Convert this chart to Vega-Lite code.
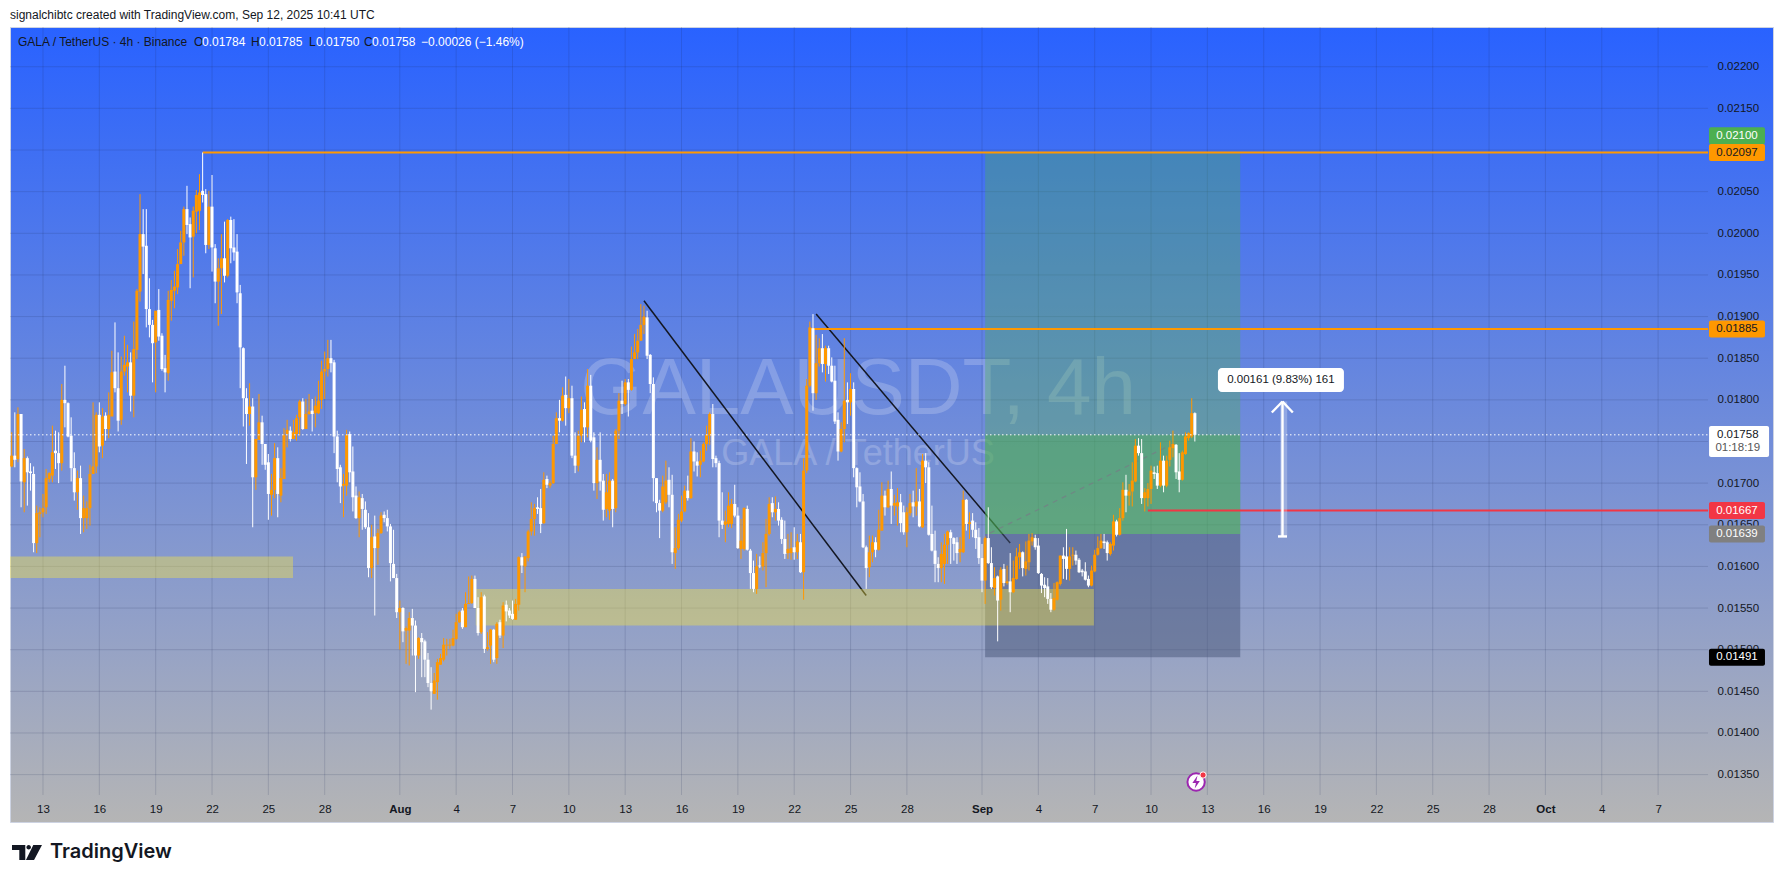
{"$schema":"https://vega.github.io/schema/vega-lite/v6.json","width":1763,"height":795,"autosize":"none","padding":{"left":10,"top":27,"right":11,"bottom":61},"background":"#ffffff","view":{"stroke":"#cdd3e2","fill":{"x1":0,"y1":0,"x2":0,"y2":1,"gradient":"linear","stops":[{"offset":0,"color":"#2962ff"},{"offset":1,"color":"#b5b5b5"}]}},"config":{"font":"Liberation Sans","axis":{"title":null}},"resolve":{"scale":{"color":"independent"}},
"datasets":{
"dates":[{"t":"2025-07-13T00:00"},{"t":"2025-07-16T00:00"},{"t":"2025-07-19T00:00"},{"t":"2025-07-22T00:00"},{"t":"2025-07-25T00:00"},{"t":"2025-07-28T00:00"},{"t":"2025-08-01T00:00"},{"t":"2025-08-04T00:00"},{"t":"2025-08-07T00:00"},{"t":"2025-08-10T00:00"},{"t":"2025-08-13T00:00"},{"t":"2025-08-16T00:00"},{"t":"2025-08-19T00:00"},{"t":"2025-08-22T00:00"},{"t":"2025-08-25T00:00"},{"t":"2025-08-28T00:00"},{"t":"2025-09-01T00:00"},{"t":"2025-09-04T00:00"},{"t":"2025-09-07T00:00"},{"t":"2025-09-10T00:00"},{"t":"2025-09-13T00:00"},{"t":"2025-09-16T00:00"},{"t":"2025-09-19T00:00"},{"t":"2025-09-22T00:00"},{"t":"2025-09-25T00:00"},{"t":"2025-09-28T00:00"},{"t":"2025-10-01T00:00"},{"t":"2025-10-04T00:00"},{"t":"2025-10-07T00:00"}],
"prices":[{"p":0.0135},{"p":0.014},{"p":0.0145},{"p":0.015},{"p":0.0155},{"p":0.016},{"p":0.0165},{"p":0.017},{"p":0.0175},{"p":0.018},{"p":0.0185},{"p":0.019},{"p":0.0195},{"p":0.02},{"p":0.0205},{"p":0.021},{"p":0.0215},{"p":0.022}],
"zones":[{"kind":"target","t1":"2025-09-01T04:00","t2":"2025-09-14T18:00","p1":0.02097,"p2":0.01639},{"kind":"open","t1":"2025-09-01T04:00","t2":"2025-09-14T18:00","p1":0.01758,"p2":0.01639},{"kind":"stop","t1":"2025-09-01T04:00","t2":"2025-09-14T18:00","p1":0.01639,"p2":0.01491},{"kind":"demand","t1":"2025-07-11T05:50","t2":"2025-07-26T07:30","p1":0.01612,"p2":0.01586},{"kind":"demand","t1":"2025-08-05T01:00","t2":"2025-09-06T23:00","p1":0.01573,"p2":0.01529}],
"trend":[{"t1":"2025-08-14T00:00","t2":"2025-08-25T20:00","p1":0.01919,"p2":0.01565},{"t1":"2025-08-23T04:00","t2":"2025-09-02T12:00","p1":0.01903,"p2":0.01628}],
"levels":[{"t":"2025-07-21T12:00","p":0.02097,"kind":"resistance"},{"t":"2025-08-22T20:00","p":0.01885,"kind":"resistance"},{"t":"2025-09-09T20:00","p":0.01667,"kind":"stop"}],
"badges":[{"at":0.02117,"kind":"target","label":"0.02100"},{"at":0.02097,"kind":"level","label":"0.02097"},{"at":0.01885,"kind":"level","label":"0.01885"},{"at":0.01667,"kind":"red","label":"0.01667"},{"at":0.01639,"kind":"gray","label":"0.01639"},{"at":0.01491,"kind":"black","label":"0.01491"}],
"arrow":[{"t1":"2025-09-17T00:00","t2":"2025-09-17T00:00","p1":0.01636,"p2":0.01798},{"t1":"2025-09-17T00:00","t2":"2025-09-16T10:20","p1":0.01798,"p2":0.017848},{"t1":"2025-09-17T00:00","t2":"2025-09-17T13:12","p1":0.01798,"p2":0.017848},{"t1":"2025-09-16T18:14","t2":"2025-09-17T05:46","p1":0.01636,"p2":0.01636}],
"legend":[{"t":"2025-07-11T16:03","label":"GALA / TetherUS · 4h · Binance","kind":"name"},{"t":"2025-07-21T01:00","label":"O","kind":"name"},{"t":"2025-07-21T11:12","label":"0.01784","kind":"value"},{"t":"2025-07-24T01:49","label":"H","kind":"name"},{"t":"2025-07-24T12:00","label":"0.01785","kind":"value"},{"t":"2025-07-27T03:56","label":"L","kind":"name"},{"t":"2025-07-27T12:53","label":"0.01750","kind":"value"},{"t":"2025-07-30T02:10","label":"C","kind":"name"},{"t":"2025-07-30T12:29","label":"0.01758","kind":"value"},{"t":"2025-08-02T03:07","label":"−0.00026 (−1.46%)","kind":"value"}],
"candles":[
{"t":"2025-07-11T08:00","o":0.0172,"h":0.01761,"l":0.01719,"c":0.01733},{"t":"2025-07-11T12:00","o":0.01733,"h":0.01785,"l":0.01719,"c":0.01728},{"t":"2025-07-11T16:00","o":0.01729,"h":0.01791,"l":0.01725,"c":0.01783},{"t":"2025-07-11T20:00","o":0.01783,"h":0.01783,"l":0.01671,"c":0.01702},
{"t":"2025-07-12T00:00","o":0.01701,"h":0.01741,"l":0.01665,"c":0.0173},{"t":"2025-07-12T04:00","o":0.0173,"h":0.01732,"l":0.01673,"c":0.01713},{"t":"2025-07-12T08:00","o":0.01714,"h":0.01724,"l":0.01691,"c":0.01712},{"t":"2025-07-12T12:00","o":0.01711,"h":0.0172,"l":0.01617,"c":0.01628},{"t":"2025-07-12T16:00","o":0.01628,"h":0.01673,"l":0.01616,"c":0.01664},{"t":"2025-07-12T20:00","o":0.01663,"h":0.01671,"l":0.01635,"c":0.01665},
{"t":"2025-07-13T00:00","o":0.01665,"h":0.01687,"l":0.01659,"c":0.0167},{"t":"2025-07-13T04:00","o":0.01671,"h":0.01717,"l":0.01663,"c":0.01706},{"t":"2025-07-13T08:00","o":0.01705,"h":0.01713,"l":0.01701,"c":0.01712},{"t":"2025-07-13T12:00","o":0.01709,"h":0.01769,"l":0.01701,"c":0.01737},{"t":"2025-07-13T16:00","o":0.01739,"h":0.01763,"l":0.01717,"c":0.01736},{"t":"2025-07-13T20:00","o":0.01736,"h":0.01761,"l":0.017,"c":0.01724},
{"t":"2025-07-14T00:00","o":0.01724,"h":0.01819,"l":0.01715,"c":0.018},{"t":"2025-07-14T04:00","o":0.018,"h":0.01841,"l":0.01767,"c":0.01796},{"t":"2025-07-14T08:00","o":0.01796,"h":0.01797,"l":0.01755,"c":0.01756},{"t":"2025-07-14T12:00","o":0.01757,"h":0.01779,"l":0.01702,"c":0.01718},{"t":"2025-07-14T16:00","o":0.01718,"h":0.01737,"l":0.01679,"c":0.01689},{"t":"2025-07-14T20:00","o":0.01689,"h":0.01715,"l":0.01668,"c":0.01706},
{"t":"2025-07-15T00:00","o":0.01706,"h":0.01721,"l":0.01639,"c":0.01658},{"t":"2025-07-15T04:00","o":0.01658,"h":0.01685,"l":0.01641,"c":0.0167},{"t":"2025-07-15T08:00","o":0.01658,"h":0.01678,"l":0.01645,"c":0.0167},{"t":"2025-07-15T12:00","o":0.0167,"h":0.01722,"l":0.01649,"c":0.01711},{"t":"2025-07-15T16:00","o":0.01711,"h":0.01797,"l":0.01711,"c":0.0172},{"t":"2025-07-15T20:00","o":0.0172,"h":0.01785,"l":0.01712,"c":0.01782},
{"t":"2025-07-16T00:00","o":0.01782,"h":0.01797,"l":0.01737,"c":0.01744},{"t":"2025-07-16T04:00","o":0.01745,"h":0.0179,"l":0.0173,"c":0.0178},{"t":"2025-07-16T08:00","o":0.01781,"h":0.01785,"l":0.01751,"c":0.01765},{"t":"2025-07-16T12:00","o":0.01765,"h":0.01809,"l":0.01754,"c":0.01782},{"t":"2025-07-16T16:00","o":0.0178,"h":0.01859,"l":0.01781,"c":0.01833},{"t":"2025-07-16T20:00","o":0.01834,"h":0.01893,"l":0.01809,"c":0.01814},
{"t":"2025-07-17T00:00","o":0.01814,"h":0.01857,"l":0.01762,"c":0.01775},{"t":"2025-07-17T04:00","o":0.01776,"h":0.01852,"l":0.0177,"c":0.01834},{"t":"2025-07-17T08:00","o":0.01834,"h":0.01877,"l":0.01829,"c":0.01842},{"t":"2025-07-17T12:00","o":0.0184,"h":0.01866,"l":0.01809,"c":0.01845},{"t":"2025-07-17T16:00","o":0.01845,"h":0.01857,"l":0.01786,"c":0.01805},{"t":"2025-07-17T20:00","o":0.01805,"h":0.01894,"l":0.01779,"c":0.01861},
{"t":"2025-07-18T00:00","o":0.0186,"h":0.01933,"l":0.01849,"c":0.01931},{"t":"2025-07-18T04:00","o":0.0193,"h":0.02047,"l":0.01918,"c":0.01999},{"t":"2025-07-18T08:00","o":0.01999,"h":0.02029,"l":0.01951,"c":0.01984},{"t":"2025-07-18T12:00","o":0.01985,"h":0.02029,"l":0.01887,"c":0.01909},{"t":"2025-07-18T16:00","o":0.01909,"h":0.01946,"l":0.01875,"c":0.0189},{"t":"2025-07-18T20:00","o":0.0189,"h":0.01896,"l":0.01821,"c":0.01868},
{"t":"2025-07-19T00:00","o":0.01869,"h":0.01907,"l":0.01809,"c":0.01907},{"t":"2025-07-19T04:00","o":0.01908,"h":0.01933,"l":0.01871,"c":0.01876},{"t":"2025-07-19T08:00","o":0.01877,"h":0.0188,"l":0.01835,"c":0.01837},{"t":"2025-07-19T12:00","o":0.01838,"h":0.01854,"l":0.01809,"c":0.01833},{"t":"2025-07-19T16:00","o":0.01832,"h":0.01931,"l":0.01823,"c":0.0192},{"t":"2025-07-19T20:00","o":0.01919,"h":0.01944,"l":0.01895,"c":0.01932},
{"t":"2025-07-20T00:00","o":0.01931,"h":0.01955,"l":0.0191,"c":0.01936},{"t":"2025-07-20T04:00","o":0.01935,"h":0.01981,"l":0.01927,"c":0.01963},{"t":"2025-07-20T08:00","o":0.01963,"h":0.02003,"l":0.01963,"c":0.01989},{"t":"2025-07-20T12:00","o":0.01989,"h":0.02032,"l":0.01973,"c":0.02029},{"t":"2025-07-20T16:00","o":0.02029,"h":0.02057,"l":0.01999,"c":0.0201},{"t":"2025-07-20T20:00","o":0.02011,"h":0.02019,"l":0.01934,"c":0.01995},
{"t":"2025-07-21T00:00","o":0.01996,"h":0.02032,"l":0.01947,"c":0.02027},{"t":"2025-07-21T04:00","o":0.02026,"h":0.02052,"l":0.02,"c":0.02046},{"t":"2025-07-21T08:00","o":0.02027,"h":0.02071,"l":0.02004,"c":0.02049},{"t":"2025-07-21T12:00","o":0.02051,"h":0.02097,"l":0.02037,"c":0.02046},{"t":"2025-07-21T16:00","o":0.02047,"h":0.02053,"l":0.01976,"c":0.01986},{"t":"2025-07-21T20:00","o":0.01986,"h":0.02051,"l":0.01981,"c":0.02032},
{"t":"2025-07-22T00:00","o":0.02032,"h":0.0207,"l":0.01954,"c":0.01983},{"t":"2025-07-22T04:00","o":0.01982,"h":0.01987,"l":0.01916,"c":0.01942},{"t":"2025-07-22T08:00","o":0.01942,"h":0.0197,"l":0.01889,"c":0.01958},{"t":"2025-07-22T12:00","o":0.01958,"h":0.01999,"l":0.01903,"c":0.0197},{"t":"2025-07-22T16:00","o":0.0197,"h":0.02014,"l":0.01941,"c":0.01949},{"t":"2025-07-22T20:00","o":0.01949,"h":0.02017,"l":0.01947,"c":0.02016},
{"t":"2025-07-23T00:00","o":0.02016,"h":0.0202,"l":0.01964,"c":0.01982},{"t":"2025-07-23T04:00","o":0.01983,"h":0.02017,"l":0.01967,"c":0.01977},{"t":"2025-07-23T08:00","o":0.01978,"h":0.01999,"l":0.01916,"c":0.01929},{"t":"2025-07-23T12:00","o":0.01928,"h":0.01938,"l":0.01814,"c":0.01863},{"t":"2025-07-23T16:00","o":0.01862,"h":0.01863,"l":0.01768,"c":0.01802},{"t":"2025-07-23T20:00","o":0.01802,"h":0.01814,"l":0.01723,"c":0.01783},
{"t":"2025-07-24T00:00","o":0.01783,"h":0.0182,"l":0.01769,"c":0.01792},{"t":"2025-07-24T04:00","o":0.01792,"h":0.01802,"l":0.01647,"c":0.01707},{"t":"2025-07-24T08:00","o":0.01707,"h":0.01753,"l":0.01692,"c":0.01753},{"t":"2025-07-24T12:00","o":0.01752,"h":0.01807,"l":0.01752,"c":0.01773},{"t":"2025-07-24T16:00","o":0.01773,"h":0.01781,"l":0.01722,"c":0.01747},{"t":"2025-07-24T20:00","o":0.01747,"h":0.01747,"l":0.01716,"c":0.01722},
{"t":"2025-07-25T00:00","o":0.01725,"h":0.01735,"l":0.01656,"c":0.01687},{"t":"2025-07-25T04:00","o":0.01686,"h":0.01711,"l":0.01661,"c":0.01692},{"t":"2025-07-25T08:00","o":0.01692,"h":0.01748,"l":0.01682,"c":0.0173},{"t":"2025-07-25T12:00","o":0.0173,"h":0.01743,"l":0.01659,"c":0.01687},{"t":"2025-07-25T16:00","o":0.01685,"h":0.01718,"l":0.01677,"c":0.01706},{"t":"2025-07-25T20:00","o":0.01705,"h":0.01766,"l":0.01705,"c":0.01758},
{"t":"2025-07-26T00:00","o":0.01759,"h":0.01776,"l":0.01743,"c":0.01764},{"t":"2025-07-26T04:00","o":0.01763,"h":0.01768,"l":0.0175,"c":0.01753},{"t":"2025-07-26T08:00","o":0.01753,"h":0.01776,"l":0.01754,"c":0.01761},{"t":"2025-07-26T12:00","o":0.01759,"h":0.01782,"l":0.01751,"c":0.01778},{"t":"2025-07-26T16:00","o":0.01779,"h":0.018,"l":0.01757,"c":0.01798},{"t":"2025-07-26T20:00","o":0.01798,"h":0.01802,"l":0.01764,"c":0.01765},
{"t":"2025-07-27T00:00","o":0.01765,"h":0.01801,"l":0.01765,"c":0.01783},{"t":"2025-07-27T04:00","o":0.01783,"h":0.01807,"l":0.01782,"c":0.01786},{"t":"2025-07-27T08:00","o":0.01787,"h":0.01801,"l":0.01762,"c":0.01783},{"t":"2025-07-27T12:00","o":0.01784,"h":0.01804,"l":0.01767,"c":0.01793},{"t":"2025-07-27T16:00","o":0.01784,"h":0.01823,"l":0.01783,"c":0.01799},{"t":"2025-07-27T20:00","o":0.018,"h":0.01847,"l":0.01789,"c":0.01834},
{"t":"2025-07-28T00:00","o":0.01834,"h":0.01858,"l":0.01801,"c":0.01837},{"t":"2025-07-28T04:00","o":0.01837,"h":0.01872,"l":0.01828,"c":0.0185},{"t":"2025-07-28T08:00","o":0.0185,"h":0.01872,"l":0.01833,"c":0.01844},{"t":"2025-07-28T12:00","o":0.01845,"h":0.01848,"l":0.01736,"c":0.01756},{"t":"2025-07-28T16:00","o":0.01756,"h":0.01763,"l":0.01701,"c":0.01717},{"t":"2025-07-28T20:00","o":0.01719,"h":0.01722,"l":0.01676,"c":0.01696},
{"t":"2025-07-29T00:00","o":0.01697,"h":0.01711,"l":0.01659,"c":0.01699},{"t":"2025-07-29T04:00","o":0.01697,"h":0.01764,"l":0.01685,"c":0.01758},{"t":"2025-07-29T08:00","o":0.01759,"h":0.01762,"l":0.01701,"c":0.01713},{"t":"2025-07-29T12:00","o":0.01714,"h":0.01744,"l":0.01666,"c":0.01683},{"t":"2025-07-29T16:00","o":0.01685,"h":0.01696,"l":0.01657,"c":0.01658},{"t":"2025-07-29T20:00","o":0.01658,"h":0.0169,"l":0.01635,"c":0.01683},
{"t":"2025-07-30T00:00","o":0.01682,"h":0.01687,"l":0.01644,"c":0.01669},{"t":"2025-07-30T04:00","o":0.01668,"h":0.01678,"l":0.01645,"c":0.01647},{"t":"2025-07-30T08:00","o":0.01647,"h":0.01664,"l":0.01587,"c":0.01598},{"t":"2025-07-30T12:00","o":0.01598,"h":0.0165,"l":0.01586,"c":0.01635},{"t":"2025-07-30T16:00","o":0.01636,"h":0.01661,"l":0.01541,"c":0.01622},{"t":"2025-07-30T20:00","o":0.01622,"h":0.01645,"l":0.01602,"c":0.0164},
{"t":"2025-07-31T00:00","o":0.0164,"h":0.01665,"l":0.01639,"c":0.01661},{"t":"2025-07-31T04:00","o":0.01662,"h":0.01666,"l":0.01653,"c":0.01658},{"t":"2025-07-31T08:00","o":0.01658,"h":0.01668,"l":0.01642,"c":0.01648},{"t":"2025-07-31T12:00","o":0.01648,"h":0.01651,"l":0.01582,"c":0.01604},{"t":"2025-07-31T16:00","o":0.01603,"h":0.01644,"l":0.01586,"c":0.01586},{"t":"2025-07-31T20:00","o":0.01586,"h":0.01591,"l":0.01538,"c":0.01545},
{"t":"2025-08-01T00:00","o":0.01545,"h":0.01559,"l":0.015,"c":0.0155},{"t":"2025-08-01T04:00","o":0.0155,"h":0.01551,"l":0.01509,"c":0.01522},{"t":"2025-08-01T08:00","o":0.01523,"h":0.01528,"l":0.01483,"c":0.01526},{"t":"2025-08-01T12:00","o":0.01523,"h":0.01545,"l":0.01481,"c":0.01538},{"t":"2025-08-01T16:00","o":0.01538,"h":0.01549,"l":0.01493,"c":0.01529},{"t":"2025-08-01T20:00","o":0.01529,"h":0.01535,"l":0.01449,"c":0.01493},
{"t":"2025-08-02T00:00","o":0.01493,"h":0.01515,"l":0.01489,"c":0.01514},{"t":"2025-08-02T04:00","o":0.01514,"h":0.0152,"l":0.01467,"c":0.01509},{"t":"2025-08-02T08:00","o":0.0151,"h":0.01512,"l":0.01467,"c":0.01488},{"t":"2025-08-02T12:00","o":0.01488,"h":0.01496,"l":0.01455,"c":0.0146},{"t":"2025-08-02T16:00","o":0.0146,"h":0.01479,"l":0.01428,"c":0.0145},{"t":"2025-08-02T20:00","o":0.01447,"h":0.01472,"l":0.01447,"c":0.01463},
{"t":"2025-08-03T00:00","o":0.01461,"h":0.01489,"l":0.0144,"c":0.01485},{"t":"2025-08-03T04:00","o":0.01482,"h":0.01495,"l":0.01482,"c":0.0149},{"t":"2025-08-03T08:00","o":0.01488,"h":0.01514,"l":0.01486,"c":0.01506},{"t":"2025-08-03T12:00","o":0.01505,"h":0.01513,"l":0.01493,"c":0.01506},{"t":"2025-08-03T16:00","o":0.01505,"h":0.01513,"l":0.01501,"c":0.01506},{"t":"2025-08-03T20:00","o":0.01505,"h":0.01524,"l":0.01504,"c":0.01514},
{"t":"2025-08-04T00:00","o":0.01513,"h":0.01543,"l":0.01512,"c":0.01533},{"t":"2025-08-04T04:00","o":0.01533,"h":0.01547,"l":0.01532,"c":0.01545},{"t":"2025-08-04T08:00","o":0.01547,"h":0.0155,"l":0.01525,"c":0.01527},{"t":"2025-08-04T12:00","o":0.01527,"h":0.01569,"l":0.01527,"c":0.01555},{"t":"2025-08-04T16:00","o":0.01555,"h":0.01588,"l":0.01555,"c":0.01556},{"t":"2025-08-04T20:00","o":0.01556,"h":0.01589,"l":0.01555,"c":0.01585},
{"t":"2025-08-05T00:00","o":0.01585,"h":0.01589,"l":0.0155,"c":0.0155},{"t":"2025-08-05T04:00","o":0.0155,"h":0.01563,"l":0.01517,"c":0.0152},{"t":"2025-08-05T08:00","o":0.01521,"h":0.01569,"l":0.01519,"c":0.01563},{"t":"2025-08-05T12:00","o":0.01564,"h":0.01566,"l":0.01496,"c":0.01501},{"t":"2025-08-05T16:00","o":0.01501,"h":0.01521,"l":0.01499,"c":0.01503},{"t":"2025-08-05T20:00","o":0.01505,"h":0.01525,"l":0.01483,"c":0.01524},
{"t":"2025-08-06T00:00","o":0.01524,"h":0.01525,"l":0.01485,"c":0.01488},{"t":"2025-08-06T04:00","o":0.0149,"h":0.01533,"l":0.01483,"c":0.01531},{"t":"2025-08-06T08:00","o":0.01533,"h":0.01536,"l":0.01514,"c":0.01517},{"t":"2025-08-06T12:00","o":0.01517,"h":0.01557,"l":0.01502,"c":0.01553},{"t":"2025-08-06T16:00","o":0.01554,"h":0.01559,"l":0.01534,"c":0.01546},{"t":"2025-08-06T20:00","o":0.01547,"h":0.0155,"l":0.01538,"c":0.01541},
{"t":"2025-08-07T00:00","o":0.01543,"h":0.01559,"l":0.01536,"c":0.01537},{"t":"2025-08-07T04:00","o":0.01536,"h":0.01561,"l":0.01536,"c":0.01555},{"t":"2025-08-07T08:00","o":0.01554,"h":0.01612,"l":0.01547,"c":0.01611},{"t":"2025-08-07T12:00","o":0.01611,"h":0.01616,"l":0.01592,"c":0.01601},{"t":"2025-08-07T16:00","o":0.016,"h":0.01612,"l":0.01569,"c":0.01612},{"t":"2025-08-07T20:00","o":0.0161,"h":0.01644,"l":0.01606,"c":0.01642},
{"t":"2025-08-08T00:00","o":0.01642,"h":0.01677,"l":0.01637,"c":0.01657},{"t":"2025-08-08T04:00","o":0.01657,"h":0.01675,"l":0.01637,"c":0.0167},{"t":"2025-08-08T08:00","o":0.01671,"h":0.01683,"l":0.01663,"c":0.01669},{"t":"2025-08-08T12:00","o":0.0167,"h":0.01693,"l":0.0164,"c":0.01651},{"t":"2025-08-08T16:00","o":0.01652,"h":0.01713,"l":0.01651,"c":0.01704},{"t":"2025-08-08T20:00","o":0.01705,"h":0.01709,"l":0.01694,"c":0.01698},
{"t":"2025-08-09T00:00","o":0.01697,"h":0.01703,"l":0.01694,"c":0.017},{"t":"2025-08-09T04:00","o":0.017,"h":0.01757,"l":0.01699,"c":0.01747},{"t":"2025-08-09T08:00","o":0.01747,"h":0.01785,"l":0.01747,"c":0.01778},{"t":"2025-08-09T12:00","o":0.01778,"h":0.018,"l":0.01761,"c":0.01775},{"t":"2025-08-09T16:00","o":0.01775,"h":0.01815,"l":0.01774,"c":0.01805},{"t":"2025-08-09T20:00","o":0.01806,"h":0.01828,"l":0.01769,"c":0.0179},
{"t":"2025-08-10T00:00","o":0.0179,"h":0.01825,"l":0.01784,"c":0.01802},{"t":"2025-08-10T04:00","o":0.01802,"h":0.01817,"l":0.0173,"c":0.01733},{"t":"2025-08-10T08:00","o":0.01733,"h":0.01761,"l":0.01712,"c":0.01721},{"t":"2025-08-10T12:00","o":0.01721,"h":0.01763,"l":0.01714,"c":0.01757},{"t":"2025-08-10T16:00","o":0.01757,"h":0.01804,"l":0.01749,"c":0.01788},{"t":"2025-08-10T20:00","o":0.01789,"h":0.01797,"l":0.01749,"c":0.01767},
{"t":"2025-08-11T00:00","o":0.01767,"h":0.01837,"l":0.01755,"c":0.01817},{"t":"2025-08-11T04:00","o":0.01817,"h":0.0183,"l":0.01749,"c":0.01751},{"t":"2025-08-11T08:00","o":0.01755,"h":0.01761,"l":0.01691,"c":0.017},{"t":"2025-08-11T12:00","o":0.017,"h":0.01743,"l":0.01681,"c":0.01728},{"t":"2025-08-11T16:00","o":0.01728,"h":0.01761,"l":0.01691,"c":0.01702},{"t":"2025-08-11T20:00","o":0.01703,"h":0.01711,"l":0.01655,"c":0.01668},
{"t":"2025-08-12T00:00","o":0.01669,"h":0.01711,"l":0.01659,"c":0.01689},{"t":"2025-08-12T04:00","o":0.01667,"h":0.01713,"l":0.01656,"c":0.01703},{"t":"2025-08-12T08:00","o":0.01703,"h":0.01705,"l":0.01647,"c":0.01669},{"t":"2025-08-12T12:00","o":0.0167,"h":0.01765,"l":0.01665,"c":0.01763},{"t":"2025-08-12T16:00","o":0.01763,"h":0.01808,"l":0.01753,"c":0.01799},{"t":"2025-08-12T20:00","o":0.01799,"h":0.01823,"l":0.01783,"c":0.01795},
{"t":"2025-08-13T00:00","o":0.01795,"h":0.01825,"l":0.01793,"c":0.01821},{"t":"2025-08-13T04:00","o":0.01821,"h":0.01825,"l":0.0178,"c":0.01812},{"t":"2025-08-13T08:00","o":0.01812,"h":0.01864,"l":0.01811,"c":0.01849},{"t":"2025-08-13T12:00","o":0.01849,"h":0.01879,"l":0.01849,"c":0.01857},{"t":"2025-08-13T16:00","o":0.01857,"h":0.01885,"l":0.01849,"c":0.01871},{"t":"2025-08-13T20:00","o":0.01871,"h":0.01915,"l":0.01871,"c":0.0189},
{"t":"2025-08-14T00:00","o":0.0189,"h":0.01913,"l":0.01879,"c":0.019},{"t":"2025-08-14T04:00","o":0.01899,"h":0.01907,"l":0.01849,"c":0.01853},{"t":"2025-08-14T08:00","o":0.01854,"h":0.01855,"l":0.01808,"c":0.01819},{"t":"2025-08-14T12:00","o":0.01819,"h":0.01827,"l":0.01678,"c":0.01706},{"t":"2025-08-14T16:00","o":0.01706,"h":0.01706,"l":0.01665,"c":0.01676},{"t":"2025-08-14T20:00","o":0.01676,"h":0.0168,"l":0.01634,"c":0.01667},
{"t":"2025-08-15T00:00","o":0.01667,"h":0.01709,"l":0.01665,"c":0.01696},{"t":"2025-08-15T04:00","o":0.01677,"h":0.01727,"l":0.01675,"c":0.01703},{"t":"2025-08-15T08:00","o":0.01704,"h":0.01719,"l":0.01671,"c":0.01686},{"t":"2025-08-15T12:00","o":0.01686,"h":0.0171,"l":0.01603,"c":0.01617},{"t":"2025-08-15T16:00","o":0.01616,"h":0.01647,"l":0.01597,"c":0.01622},{"t":"2025-08-15T20:00","o":0.01622,"h":0.01663,"l":0.0162,"c":0.01656},
{"t":"2025-08-16T00:00","o":0.01655,"h":0.01685,"l":0.01653,"c":0.01666},{"t":"2025-08-16T04:00","o":0.01666,"h":0.01697,"l":0.01665,"c":0.01691},{"t":"2025-08-16T08:00","o":0.01691,"h":0.01709,"l":0.01679,"c":0.01682},{"t":"2025-08-16T12:00","o":0.01682,"h":0.01754,"l":0.01681,"c":0.01738},{"t":"2025-08-16T16:00","o":0.01738,"h":0.0175,"l":0.01714,"c":0.01726},{"t":"2025-08-16T20:00","o":0.01726,"h":0.01737,"l":0.01708,"c":0.01721},
{"t":"2025-08-17T00:00","o":0.01722,"h":0.01739,"l":0.01707,"c":0.01727},{"t":"2025-08-17T04:00","o":0.01726,"h":0.01749,"l":0.01725,"c":0.01747},{"t":"2025-08-17T08:00","o":0.01747,"h":0.01769,"l":0.01739,"c":0.01758},{"t":"2025-08-17T12:00","o":0.01757,"h":0.01785,"l":0.01746,"c":0.01783},{"t":"2025-08-17T16:00","o":0.01783,"h":0.01795,"l":0.01719,"c":0.01729},{"t":"2025-08-17T20:00","o":0.0173,"h":0.01733,"l":0.01719,"c":0.01724},
{"t":"2025-08-18T00:00","o":0.01724,"h":0.01727,"l":0.01635,"c":0.01655},{"t":"2025-08-18T04:00","o":0.01655,"h":0.01689,"l":0.01645,"c":0.0165},{"t":"2025-08-18T08:00","o":0.0165,"h":0.01667,"l":0.01629,"c":0.01654},{"t":"2025-08-18T12:00","o":0.01651,"h":0.01689,"l":0.01647,"c":0.01673},{"t":"2025-08-18T16:00","o":0.01651,"h":0.01681,"l":0.01646,"c":0.01675},{"t":"2025-08-18T20:00","o":0.01675,"h":0.01698,"l":0.01659,"c":0.01661},
{"t":"2025-08-19T00:00","o":0.01661,"h":0.01671,"l":0.01621,"c":0.01622},{"t":"2025-08-19T04:00","o":0.01621,"h":0.01657,"l":0.01609,"c":0.01631},{"t":"2025-08-19T08:00","o":0.01621,"h":0.01671,"l":0.01619,"c":0.0167},{"t":"2025-08-19T12:00","o":0.01669,"h":0.01673,"l":0.01619,"c":0.0162},{"t":"2025-08-19T16:00","o":0.01619,"h":0.01621,"l":0.01573,"c":0.01592},{"t":"2025-08-19T20:00","o":0.01592,"h":0.01607,"l":0.01569,"c":0.01573},
{"t":"2025-08-20T00:00","o":0.01573,"h":0.01615,"l":0.01567,"c":0.016},{"t":"2025-08-20T04:00","o":0.01601,"h":0.01612,"l":0.01598,"c":0.016},{"t":"2025-08-20T08:00","o":0.016,"h":0.01629,"l":0.01595,"c":0.01616},{"t":"2025-08-20T12:00","o":0.01616,"h":0.01657,"l":0.01575,"c":0.01639},{"t":"2025-08-20T16:00","o":0.01639,"h":0.01683,"l":0.01637,"c":0.01675},{"t":"2025-08-20T20:00","o":0.01676,"h":0.01683,"l":0.01659,"c":0.01665},
{"t":"2025-08-21T00:00","o":0.01665,"h":0.01684,"l":0.01655,"c":0.01669},{"t":"2025-08-21T04:00","o":0.01669,"h":0.01677,"l":0.01649,"c":0.01655},{"t":"2025-08-21T08:00","o":0.01656,"h":0.01659,"l":0.01627,"c":0.01633},{"t":"2025-08-21T12:00","o":0.01633,"h":0.01655,"l":0.01609,"c":0.01615},{"t":"2025-08-21T16:00","o":0.01616,"h":0.01639,"l":0.01609,"c":0.01621},{"t":"2025-08-21T20:00","o":0.01616,"h":0.01641,"l":0.01608,"c":0.01622},
{"t":"2025-08-22T00:00","o":0.01623,"h":0.01647,"l":0.01608,"c":0.01617},{"t":"2025-08-22T04:00","o":0.01617,"h":0.01639,"l":0.01609,"c":0.0163},{"t":"2025-08-22T08:00","o":0.01629,"h":0.01639,"l":0.01592,"c":0.01593},{"t":"2025-08-22T12:00","o":0.01593,"h":0.0173,"l":0.0156,"c":0.01715},{"t":"2025-08-22T16:00","o":0.01715,"h":0.01825,"l":0.01712,"c":0.01817},{"t":"2025-08-22T20:00","o":0.01817,"h":0.01894,"l":0.01815,"c":0.01887},
{"t":"2025-08-23T00:00","o":0.01886,"h":0.01903,"l":0.01787,"c":0.01808},{"t":"2025-08-23T04:00","o":0.01808,"h":0.01878,"l":0.018,"c":0.01844},{"t":"2025-08-23T08:00","o":0.01844,"h":0.01874,"l":0.0184,"c":0.01862},{"t":"2025-08-23T12:00","o":0.01862,"h":0.01879,"l":0.01833,"c":0.01843},{"t":"2025-08-23T16:00","o":0.01843,"h":0.01865,"l":0.01822,"c":0.01862},{"t":"2025-08-23T20:00","o":0.01862,"h":0.01865,"l":0.01831,"c":0.01841},
{"t":"2025-08-24T00:00","o":0.01841,"h":0.01851,"l":0.01821,"c":0.01822},{"t":"2025-08-24T04:00","o":0.01823,"h":0.01841,"l":0.01771,"c":0.01774},{"t":"2025-08-24T08:00","o":0.01776,"h":0.01785,"l":0.01727,"c":0.01738},{"t":"2025-08-24T12:00","o":0.01738,"h":0.01773,"l":0.01737,"c":0.01765},{"t":"2025-08-24T16:00","o":0.01765,"h":0.01874,"l":0.01749,"c":0.01799},{"t":"2025-08-24T20:00","o":0.018,"h":0.01821,"l":0.01771,"c":0.01797},
{"t":"2025-08-25T00:00","o":0.01797,"h":0.01832,"l":0.01781,"c":0.01813},{"t":"2025-08-25T04:00","o":0.01813,"h":0.01821,"l":0.01707,"c":0.01718},{"t":"2025-08-25T08:00","o":0.01718,"h":0.01719,"l":0.01671,"c":0.01695},{"t":"2025-08-25T12:00","o":0.01696,"h":0.01713,"l":0.01677,"c":0.01678},{"t":"2025-08-25T16:00","o":0.01678,"h":0.01687,"l":0.01622,"c":0.01623},{"t":"2025-08-25T20:00","o":0.01623,"h":0.01625,"l":0.01573,"c":0.01598},
{"t":"2025-08-26T00:00","o":0.01599,"h":0.01637,"l":0.01587,"c":0.01617},{"t":"2025-08-26T04:00","o":0.01617,"h":0.01637,"l":0.01605,"c":0.01629},{"t":"2025-08-26T08:00","o":0.01629,"h":0.01635,"l":0.01611,"c":0.0162},{"t":"2025-08-26T12:00","o":0.0162,"h":0.01668,"l":0.01619,"c":0.01644},{"t":"2025-08-26T16:00","o":0.01643,"h":0.01701,"l":0.01643,"c":0.01685},{"t":"2025-08-26T20:00","o":0.01685,"h":0.01691,"l":0.01661,"c":0.01671},
{"t":"2025-08-27T00:00","o":0.01671,"h":0.01703,"l":0.0167,"c":0.01693},{"t":"2025-08-27T04:00","o":0.01693,"h":0.01714,"l":0.01651,"c":0.01673},{"t":"2025-08-27T08:00","o":0.01673,"h":0.01686,"l":0.01661,"c":0.01676},{"t":"2025-08-27T12:00","o":0.01672,"h":0.01694,"l":0.01649,"c":0.01677},{"t":"2025-08-27T16:00","o":0.01677,"h":0.01687,"l":0.01641,"c":0.01652},{"t":"2025-08-27T20:00","o":0.01665,"h":0.01673,"l":0.01638,"c":0.01641},
{"t":"2025-08-28T00:00","o":0.01641,"h":0.01671,"l":0.01623,"c":0.01665},{"t":"2025-08-28T04:00","o":0.01664,"h":0.01687,"l":0.01661,"c":0.01676},{"t":"2025-08-28T08:00","o":0.01677,"h":0.01691,"l":0.01659,"c":0.01672},{"t":"2025-08-28T12:00","o":0.01672,"h":0.01718,"l":0.01661,"c":0.01678},{"t":"2025-08-28T16:00","o":0.01678,"h":0.01693,"l":0.01647,"c":0.01648},{"t":"2025-08-28T20:00","o":0.01647,"h":0.01735,"l":0.01646,"c":0.01727},
{"t":"2025-08-29T00:00","o":0.01727,"h":0.01736,"l":0.017,"c":0.01719},{"t":"2025-08-29T04:00","o":0.01719,"h":0.01725,"l":0.01637,"c":0.01638},{"t":"2025-08-29T08:00","o":0.01639,"h":0.01673,"l":0.01618,"c":0.01619},{"t":"2025-08-29T12:00","o":0.01619,"h":0.01643,"l":0.01581,"c":0.01603},{"t":"2025-08-29T16:00","o":0.01603,"h":0.01611,"l":0.01581,"c":0.01598},{"t":"2025-08-29T20:00","o":0.01598,"h":0.01629,"l":0.01581,"c":0.01615},
{"t":"2025-08-30T00:00","o":0.01603,"h":0.01639,"l":0.01579,"c":0.01626},{"t":"2025-08-30T04:00","o":0.01626,"h":0.01643,"l":0.01603,"c":0.01642},{"t":"2025-08-30T08:00","o":0.01641,"h":0.01644,"l":0.01603,"c":0.01634},{"t":"2025-08-30T12:00","o":0.01634,"h":0.01635,"l":0.01607,"c":0.01627},{"t":"2025-08-30T16:00","o":0.01629,"h":0.01635,"l":0.01603,"c":0.01616},{"t":"2025-08-30T20:00","o":0.01617,"h":0.01635,"l":0.01605,"c":0.01621},
{"t":"2025-08-31T00:00","o":0.01617,"h":0.01691,"l":0.01616,"c":0.0168},{"t":"2025-08-31T04:00","o":0.0168,"h":0.01681,"l":0.01643,"c":0.01651},{"t":"2025-08-31T08:00","o":0.01651,"h":0.01665,"l":0.01633,"c":0.01653},{"t":"2025-08-31T12:00","o":0.01655,"h":0.01664,"l":0.01635,"c":0.01644},{"t":"2025-08-31T16:00","o":0.01644,"h":0.01653,"l":0.01621,"c":0.01634},{"t":"2025-08-31T20:00","o":0.01635,"h":0.01646,"l":0.01603,"c":0.0161},
{"t":"2025-09-01T00:00","o":0.0161,"h":0.01627,"l":0.01569,"c":0.01583},{"t":"2025-09-01T04:00","o":0.01583,"h":0.01636,"l":0.01555,"c":0.01634},{"t":"2025-09-01T08:00","o":0.01634,"h":0.01671,"l":0.01603,"c":0.01604},{"t":"2025-09-01T12:00","o":0.01604,"h":0.01623,"l":0.01573,"c":0.01575},{"t":"2025-09-01T16:00","o":0.01574,"h":0.01599,"l":0.01565,"c":0.01586},{"t":"2025-09-01T20:00","o":0.01588,"h":0.01589,"l":0.0151,"c":0.01559},
{"t":"2025-09-02T00:00","o":0.0156,"h":0.01599,"l":0.01547,"c":0.01596},{"t":"2025-09-02T04:00","o":0.01597,"h":0.01603,"l":0.01576,"c":0.0158},{"t":"2025-09-02T08:00","o":0.0158,"h":0.01601,"l":0.01578,"c":0.01582},{"t":"2025-09-02T12:00","o":0.01582,"h":0.01616,"l":0.01545,"c":0.01569},{"t":"2025-09-02T16:00","o":0.01569,"h":0.01607,"l":0.01568,"c":0.01586},{"t":"2025-09-02T20:00","o":0.01585,"h":0.01622,"l":0.01584,"c":0.01612},
{"t":"2025-09-03T00:00","o":0.01611,"h":0.01627,"l":0.01597,"c":0.01617},{"t":"2025-09-03T04:00","o":0.01617,"h":0.01618,"l":0.01588,"c":0.01598},{"t":"2025-09-03T08:00","o":0.01597,"h":0.0163,"l":0.01589,"c":0.01606},{"t":"2025-09-03T12:00","o":0.01605,"h":0.01639,"l":0.01595,"c":0.01631},{"t":"2025-09-03T16:00","o":0.0163,"h":0.0164,"l":0.01625,"c":0.01635},{"t":"2025-09-03T20:00","o":0.01634,"h":0.01638,"l":0.0162,"c":0.01623},
{"t":"2025-09-04T00:00","o":0.01625,"h":0.01634,"l":0.01591,"c":0.01592},{"t":"2025-09-04T04:00","o":0.01591,"h":0.01592,"l":0.01568,"c":0.01577},{"t":"2025-09-04T08:00","o":0.01578,"h":0.01587,"l":0.01563,"c":0.01574},{"t":"2025-09-04T12:00","o":0.01576,"h":0.01586,"l":0.01555,"c":0.01561},{"t":"2025-09-04T16:00","o":0.01561,"h":0.01568,"l":0.01545,"c":0.01548},{"t":"2025-09-04T20:00","o":0.01548,"h":0.0158,"l":0.01547,"c":0.01562},
{"t":"2025-09-05T00:00","o":0.0156,"h":0.01582,"l":0.01559,"c":0.01581},{"t":"2025-09-05T04:00","o":0.01579,"h":0.01613,"l":0.01577,"c":0.01613},{"t":"2025-09-05T08:00","o":0.01613,"h":0.01623,"l":0.01585,"c":0.01609},{"t":"2025-09-05T12:00","o":0.01612,"h":0.01645,"l":0.01584,"c":0.01597},{"t":"2025-09-05T16:00","o":0.01597,"h":0.01623,"l":0.01583,"c":0.01612},{"t":"2025-09-05T20:00","o":0.01613,"h":0.01623,"l":0.01601,"c":0.01614},
{"t":"2025-09-06T00:00","o":0.01614,"h":0.01619,"l":0.01602,"c":0.01607},{"t":"2025-09-06T04:00","o":0.01608,"h":0.0161,"l":0.01592,"c":0.01593},{"t":"2025-09-06T08:00","o":0.01595,"h":0.01597,"l":0.01588,"c":0.01593},{"t":"2025-09-06T12:00","o":0.01594,"h":0.01605,"l":0.01583,"c":0.01584},{"t":"2025-09-06T16:00","o":0.01585,"h":0.01589,"l":0.01575,"c":0.01577},{"t":"2025-09-06T20:00","o":0.01577,"h":0.01601,"l":0.01576,"c":0.01595},
{"t":"2025-09-07T00:00","o":0.01594,"h":0.0162,"l":0.01593,"c":0.01614},{"t":"2025-09-07T04:00","o":0.01614,"h":0.01636,"l":0.01613,"c":0.01622},{"t":"2025-09-07T08:00","o":0.01622,"h":0.01639,"l":0.01621,"c":0.01631},{"t":"2025-09-07T12:00","o":0.0163,"h":0.01639,"l":0.01621,"c":0.01628},{"t":"2025-09-07T16:00","o":0.01629,"h":0.01631,"l":0.01607,"c":0.01616},{"t":"2025-09-07T20:00","o":0.01615,"h":0.01629,"l":0.01613,"c":0.01627},
{"t":"2025-09-08T00:00","o":0.01625,"h":0.01662,"l":0.01619,"c":0.01654},{"t":"2025-09-08T04:00","o":0.01654,"h":0.01656,"l":0.01636,"c":0.01638},{"t":"2025-09-08T08:00","o":0.01638,"h":0.0167,"l":0.01637,"c":0.01658},{"t":"2025-09-08T12:00","o":0.01658,"h":0.01701,"l":0.01655,"c":0.01692},{"t":"2025-09-08T16:00","o":0.01692,"h":0.0171,"l":0.01665,"c":0.01685},{"t":"2025-09-08T20:00","o":0.01685,"h":0.01699,"l":0.01673,"c":0.0169},
{"t":"2025-09-09T00:00","o":0.0169,"h":0.01725,"l":0.01672,"c":0.01703},{"t":"2025-09-09T04:00","o":0.01702,"h":0.01753,"l":0.01701,"c":0.01745},{"t":"2025-09-09T08:00","o":0.01745,"h":0.01754,"l":0.01733,"c":0.01736},{"t":"2025-09-09T12:00","o":0.01736,"h":0.01753,"l":0.01675,"c":0.01682},{"t":"2025-09-09T16:00","o":0.01682,"h":0.01694,"l":0.01666,"c":0.01689},{"t":"2025-09-09T20:00","o":0.01682,"h":0.017,"l":0.01672,"c":0.01693},
{"t":"2025-09-10T00:00","o":0.01693,"h":0.01721,"l":0.01675,"c":0.01715},{"t":"2025-09-10T04:00","o":0.01713,"h":0.0172,"l":0.01705,"c":0.01711},{"t":"2025-09-10T08:00","o":0.01712,"h":0.01721,"l":0.01693,"c":0.01697},{"t":"2025-09-10T12:00","o":0.01697,"h":0.01749,"l":0.01695,"c":0.01727},{"t":"2025-09-10T16:00","o":0.01727,"h":0.01733,"l":0.01689,"c":0.01697},{"t":"2025-09-10T20:00","o":0.01697,"h":0.01733,"l":0.01695,"c":0.01727},
{"t":"2025-09-11T00:00","o":0.01728,"h":0.01751,"l":0.0172,"c":0.01743},{"t":"2025-09-11T04:00","o":0.01742,"h":0.01763,"l":0.01731,"c":0.01747},{"t":"2025-09-11T08:00","o":0.01746,"h":0.01747,"l":0.01705,"c":0.01713},{"t":"2025-09-11T12:00","o":0.01714,"h":0.01736,"l":0.01689,"c":0.01704},{"t":"2025-09-11T16:00","o":0.01704,"h":0.01739,"l":0.01703,"c":0.01737},{"t":"2025-09-11T20:00","o":0.01735,"h":0.01761,"l":0.01734,"c":0.01756},
{"t":"2025-09-12T00:00","o":0.01754,"h":0.01761,"l":0.01751,"c":0.0176},{"t":"2025-09-12T04:00","o":0.01756,"h":0.01802,"l":0.01754,"c":0.01784},{"t":"2025-09-12T08:00","o":0.01784,"h":0.01785,"l":0.0175,"c":0.01758}]
},
"layer":[
{"data":{"name":"dates"},"mark":{"type":"rule","color":"#1c2b5a","opacity":0.16,"strokeWidth":1},"encoding":{"x":{"field":"t","type":"temporal","scale":{"domain":["2025-07-11T05:50","2025-10-13T02:50"],"nice":false,"padding":0},"axis":{"title":null,"orient":"bottom","offset":-27,"grid":false,"domain":false,"ticks":false,"labelPadding":8,"labelFontSize":11.5,"labelColor":"#131722","labelFont":"Liberation Sans","labelOverlap":false,"values":["2025-07-13T00:00","2025-07-16T00:00","2025-07-19T00:00","2025-07-22T00:00","2025-07-25T00:00","2025-07-28T00:00","2025-08-01T00:00","2025-08-04T00:00","2025-08-07T00:00","2025-08-10T00:00","2025-08-13T00:00","2025-08-16T00:00","2025-08-19T00:00","2025-08-22T00:00","2025-08-25T00:00","2025-08-28T00:00","2025-09-01T00:00","2025-09-04T00:00","2025-09-07T00:00","2025-09-10T00:00","2025-09-13T00:00","2025-09-16T00:00","2025-09-19T00:00","2025-09-22T00:00","2025-09-25T00:00","2025-09-28T00:00","2025-10-01T00:00","2025-10-04T00:00","2025-10-07T00:00"],"labelExpr":"date(datum.value)==1 ? timeFormat(datum.value,'%b') : timeFormat(datum.value,'%-d')","labelFontWeight":{"condition":{"test":"date(datum.value)==1","value":"bold"},"value":"normal"}}},"y":{"datum":0.022477,"type":"quantitative","scale":{"domain":[0.012931,0.022477],"nice":false,"zero":false},"axis":{"title":null,"orient":"right","offset":-65,"grid":false,"domain":false,"ticks":false,"labelPadding":9,"labelFontSize":11.5,"labelColor":"#131722","labelFont":"Liberation Sans","labelOverlap":false,"format":".5f","values":[0.0135,0.014,0.0145,0.015,0.0155,0.016,0.0165,0.017,0.0175,0.018,0.0185,0.019,0.0195,0.02,0.0205,0.021,0.0215,0.022]}},"y2":{"datum":0.013255}}},
{"data":{"name":"prices"},"mark":{"type":"rule","color":"#1c2b5a","opacity":0.16,"strokeWidth":1},"encoding":{"y":{"field":"p","type":"quantitative"},"x":{"datum":{"year":2025,"month":"jul","date":11,"hours":5,"minutes":50}},"x2":{"datum":{"year":2025,"month":"oct","date":9,"hours":15,"minutes":50}}}},
{"data":{"values":[{"t":"2025-08-25T09:36","p":0.01783,"label":"GALAUSDT, 4h"}]},"mark":{"type":"text","font":"Liberation Sans","fontSize":80,"color":"#ffffff","opacity":0.2,"align":"center","baseline":"alphabetic"},"encoding":{"x":{"field":"t","type":"temporal"},"y":{"field":"p","type":"quantitative"},"text":{"field":"label"}}},
{"data":{"values":[{"t":"2025-08-25T09:36","p":0.017217,"label":"GALA / TetherUS"}]},"mark":{"type":"text","font":"Liberation Sans","fontSize":36,"color":"#ffffff","opacity":0.2,"align":"center","baseline":"alphabetic"},"encoding":{"x":{"field":"t","type":"temporal"},"y":{"field":"p","type":"quantitative"},"text":{"field":"label"}}},
{"data":{"name":"trend"},"mark":{"type":"rule","color":"#131722","strokeWidth":1.5},"encoding":{"x":{"field":"t1","type":"temporal"},"x2":{"field":"t2"},"y":{"field":"p1","type":"quantitative"},"y2":{"field":"p2"}}},
{"data":{"name":"zones"},"mark":{"type":"rect"},"encoding":{"x":{"field":"t1","type":"temporal"},"x2":{"field":"t2"},"y":{"field":"p1","type":"quantitative"},"y2":{"field":"p2"},"color":{"field":"kind","type":"nominal","legend":null,"scale":{"domain":["target","open","stop","demand"],"range":["rgba(76,175,80,0.35)","rgba(76,175,80,0.43)","rgba(72,85,120,0.5)","rgba(255,235,59,0.38)"]}}}},
{"data":{"values":[{"t1":"2025-09-01T10:00","t2":"2025-09-11T04:00","p1":0.0164,"p2":0.01747}]},"mark":{"type":"rule","color":"#787b86","strokeWidth":1.2,"strokeDash":[5,5],"opacity":0.7},"encoding":{"x":{"field":"t1","type":"temporal"},"x2":{"field":"t2"},"y":{"field":"p1","type":"quantitative"},"y2":{"field":"p2"}}},
{"data":{"name":"levels"},"mark":{"type":"rule","strokeWidth":2},"encoding":{"x":{"field":"t","type":"temporal"},"x2":{"datum":{"year":2025,"month":"oct","date":9,"hours":15,"minutes":50}},"y":{"field":"p","type":"quantitative"},"color":{"field":"kind","type":"nominal","legend":null,"scale":{"domain":["resistance","stop"],"range":["#ff9800","#f23645"]}}}},
{"data":{"name":"candles"},"mark":{"type":"rule","strokeWidth":1},"encoding":{"x":{"field":"t","type":"temporal"},"y":{"field":"l","type":"quantitative"},"y2":{"field":"h"},"color":{"condition":{"test":"datum.c<datum.o","value":"#ffffff"},"value":"#ff9800"}}},
{"data":{"name":"candles"},"mark":{"type":"bar","size":3},"encoding":{"x":{"field":"t","type":"temporal"},"y":{"field":"o","type":"quantitative"},"y2":{"field":"c"},"color":{"condition":{"test":"datum.c<datum.o","value":"#ffffff"},"value":"#ff9800"}}},
{"data":{"values":[{"p":0.01758}]},"mark":{"type":"rule","color":"#ffffff","strokeWidth":1,"strokeDash":[1.5,2.5]},"encoding":{"y":{"field":"p","type":"quantitative"},"x":{"datum":{"year":2025,"month":"jul","date":11,"hours":5,"minutes":50}},"x2":{"datum":{"year":2025,"month":"oct","date":9,"hours":15,"minutes":50}}}},
{"data":{"values":[{"t":"2025-09-17T01:30","p1":0.01636,"p2":0.01798}]},"mark":{"type":"rule","color":"#ffffff","strokeWidth":7,"opacity":0.25},"encoding":{"x":{"field":"t","type":"temporal"},"y":{"field":"p1","type":"quantitative"},"y2":{"field":"p2"}}},
{"data":{"name":"arrow"},"mark":{"type":"rule","color":"#ffffff","strokeWidth":2.4},"encoding":{"x":{"field":"t1","type":"temporal"},"x2":{"field":"t2"},"y":{"field":"p1","type":"quantitative"},"y2":{"field":"p2"}}},
{"data":{"values":[{"t":"2025-09-16T22:00","p":0.018238}]},"mark":{"type":"rect","color":"#ffffff","width":126,"height":24,"cornerRadius":4},"encoding":{"x":{"field":"t","type":"temporal"},"y":{"field":"p","type":"quantitative"}}},
{"data":{"values":[{"t":"2025-09-16T22:00","p":0.018238,"label":"0.00161 (9.83%) 161"}]},"mark":{"type":"text","font":"Liberation Sans","fontSize":11.5,"color":"#131722","align":"center","baseline":"middle"},"encoding":{"x":{"field":"t","type":"temporal"},"y":{"field":"p","type":"quantitative"},"text":{"field":"label"}}},
{"data":{"name":"badges"},"mark":{"type":"rect","width":56,"height":17,"cornerRadius":2},"encoding":{"x":{"datum":{"year":2025,"month":"oct","date":11,"hours":4,"minutes":48}},"y":{"field":"at","type":"quantitative"},"color":{"field":"kind","type":"nominal","legend":null,"scale":{"domain":["target","level","red","gray","black"],"range":["#4caf50","#ff9800","#f23645","#808080","#000000"]}}}},
{"data":{"name":"badges"},"mark":{"type":"text","font":"Liberation Sans","fontSize":11.5,"align":"center","baseline":"middle"},"encoding":{"x":{"datum":{"year":2025,"month":"oct","date":11,"hours":4,"minutes":48}},"y":{"field":"at","type":"quantitative"},"text":{"field":"label"},"color":{"field":"kind","type":"nominal","legend":null,"scale":{"domain":["target","level","red","gray","black"],"range":["#ffffff","#131722","#ffffff","#ffffff","#ffffff"]}}}},
{"data":{"values":[{"p":0.0175}]},"mark":{"type":"rect","color":"#ffffff","width":60,"height":31,"cornerRadius":2},"encoding":{"x":{"datum":{"year":2025,"month":"oct","date":11,"hours":7,"minutes":27}},"y":{"field":"p","type":"quantitative"}}},
{"data":{"values":[{"p":0.01758,"label":"0.01758","kind":"price"},{"p":0.017418,"label":"01:18:19","kind":"countdown"}]},"mark":{"type":"text","font":"Liberation Sans","fontSize":11.5,"align":"center","baseline":"middle"},"encoding":{"x":{"datum":{"year":2025,"month":"oct","date":11,"hours":5,"minutes":48}},"y":{"field":"p","type":"quantitative"},"text":{"field":"label"},"color":{"field":"kind","type":"nominal","legend":null,"scale":{"domain":["price","countdown"],"range":["#131722","#555555"]}}}},
{"data":{"name":"legend"},"mark":{"type":"text","font":"Liberation Sans","fontSize":12,"align":"left","baseline":"middle"},"encoding":{"x":{"field":"t","type":"temporal"},"y":{"datum":0.0223},"text":{"field":"label"},"color":{"field":"kind","type":"nominal","legend":null,"scale":{"domain":["name","value"],"range":["#131722","#ffffff"]}}}},
{"data":{"values":[{"t":"2025-07-11T05:50","p":0.022621,"label":"signalchibtc created with TradingView.com, Sep 12, 2025 10:41 UTC"}]},"mark":{"type":"text","font":"Liberation Sans","fontSize":12,"color":"#131722","align":"left","baseline":"middle"},"encoding":{"x":{"field":"t","type":"temporal"},"y":{"field":"p","type":"quantitative"},"text":{"field":"label"}}},
{"data":{"values":[{"t":"2025-07-13T09:00","p":0.01257,"label":"TradingView"}]},"mark":{"type":"text","font":"Inter","fontWeight":600,"fontSize":20,"color":"#131722","align":"left","baseline":"middle"},"encoding":{"x":{"field":"t","type":"temporal"},"y":{"field":"p","type":"quantitative"},"text":{"field":"label"}}},
{"data":{"values":[{"t":"2025-07-12T03:33","p":0.012565}]},"mark":{"type":"point","filled":true,"opacity":1,"color":"#131722","size":900,"shape":"M-1,-.5L-.113,-.5L-.113,.5L-.513,.5L-.513,-.167L-1,-.167ZM-.04,-.347a.153,.153 0 1,0 .306,0a.153,.153 0 1,0 -.306,0ZM.42,-.5L1,-.5L.47,.5L-.07,.5Z"},"encoding":{"x":{"field":"t","type":"temporal"},"y":{"field":"p","type":"quantitative"}}},
{"data":{"values":[{"t":"2025-09-12T09:36","p":0.013411}]},"mark":{"type":"point","filled":true,"opacity":1,"fill":"#ffffff","stroke":"#9c27b0","strokeWidth":2,"size":300,"shape":"circle"},"encoding":{"x":{"field":"t","type":"temporal"},"y":{"field":"p","type":"quantitative"}}},
{"data":{"values":[{"t":"2025-09-12T09:36","p":0.013411}]},"mark":{"type":"point","filled":true,"opacity":1,"color":"#9c27b0","size":346,"shape":"M.15,-.7L-.4,.1L-.02,.1L-.15,.7L.4,-.1L.02,-.1Z"},"encoding":{"x":{"field":"t","type":"temporal"},"y":{"field":"p","type":"quantitative"}}},
{"data":{"values":[{"t":"2025-09-12T18:29","p":0.013495}]},"mark":{"type":"point","filled":true,"opacity":1,"fill":"#f23645","stroke":"#ffffff","strokeWidth":1,"size":40,"shape":"circle"},"encoding":{"x":{"field":"t","type":"temporal"},"y":{"field":"p","type":"quantitative"}}}
]}
